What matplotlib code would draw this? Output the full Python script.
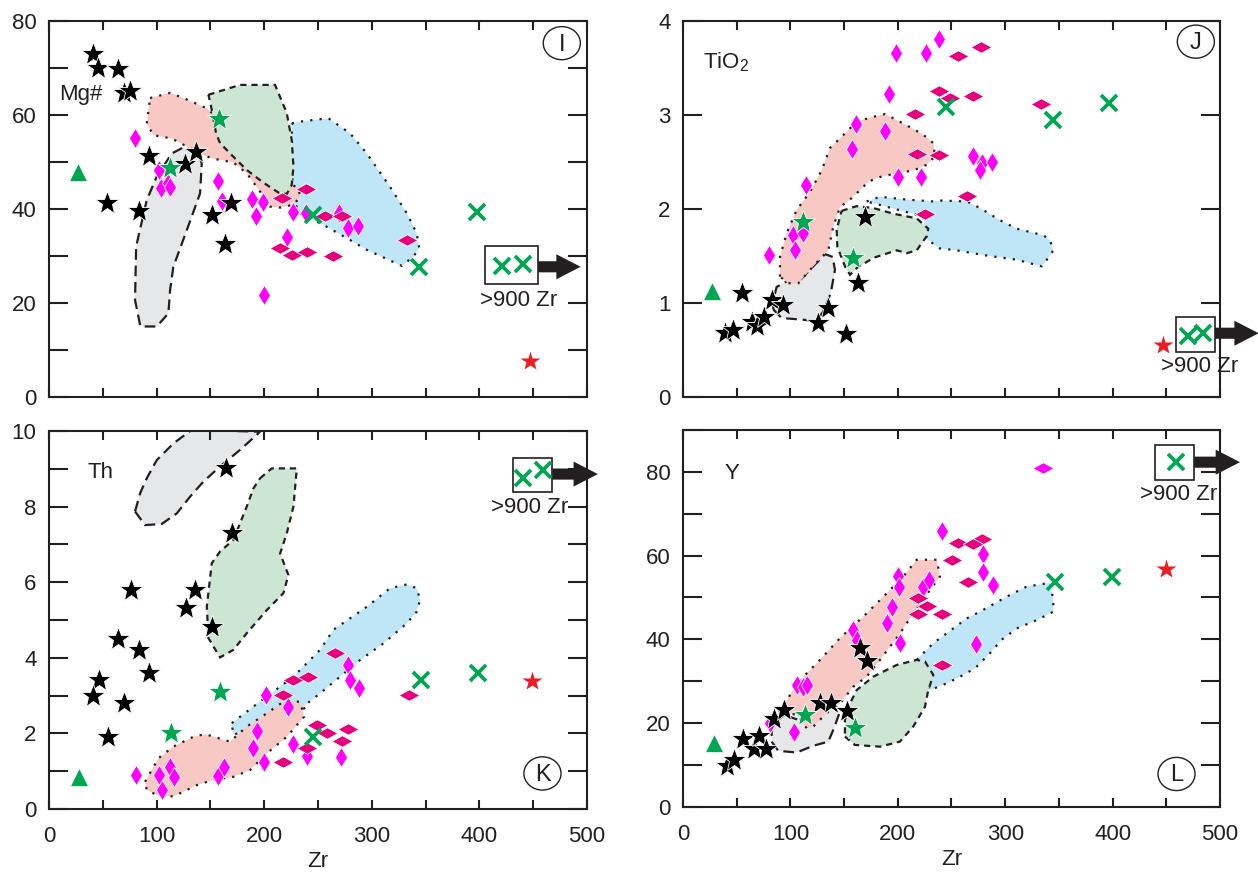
import matplotlib
matplotlib.use("Agg")
from matplotlib import pyplot as plt
from matplotlib.patches import Polygon, Rectangle, Ellipse, FancyArrowPatch
import numpy as np

plt.rcParams['font.family'] = ['Liberation Sans', 'DejaVu Sans']
plt.rcParams['mathtext.default'] = 'regular'

# ---------------- data: (Zr, value) ----------------
# panel I : Mg#
I_black_stars = [(40.6, 73.0), (45.8, 70.1), (64.4, 69.8), (69.7, 64.7), (75.3, 65.2), (92.9, 51.3),
                 (53.6, 41.2), (83.9, 39.6), (126.4, 49.6), (136.3, 52.1), (151.2, 38.7), (169.1, 41.3),
                 (163.6, 32.6)]
I_green_stars = [(112.5, 48.7), (158.3, 59.1)]
I_green_tri = [(27.3, 47.9)]
I_magenta = [(79.9, 55.2), (102.2, 48.2), (104.0, 44.4), (110.5, 45.5), (112.5, 44.7), (157.4, 46.0),
             (160.5, 41.7), (188.4, 42.1), (199.2, 41.4), (192.4, 38.4), (226.5, 39.4), (220.9, 34.1),
             (200.1, 21.7), (238.8, 39.1), (269.8, 39.1), (278.2, 35.9), (287.5, 36.4)]
I_pink = [(216.3, 42.3), (238.8, 44.3), (214.7, 31.6), (225.5, 30.3), (240.1, 30.8), (256.5, 38.4),
          (272.0, 38.5), (264.2, 30.1), (333.0, 33.4)]
I_green_x = [(245.0, 38.7), (344.2, 27.7), (397.5, 39.3)]
I_box_x = [(421.3, 27.9), (440.2, 28.2)]
I_red_star = [(447.0, 7.7)]

I_gray = [(84.6, 15.3), (79.9, 20.6), (80.9, 32.0), (90.8, 41.9), (100.1, 46.9), (114.0, 51.8),
          (124.8, 53.1), (138.8, 52.2), (141.9, 49.7), (140.3, 43.3), (128.0, 35.5), (115.5, 27.7),
          (112.5, 22.8), (110.9, 17.8), (100.1, 15.0), (87.6, 15.0)]
I_pinkfield = [(93.9, 63.6), (112.5, 64.7), (128.0, 63.3), (146.6, 61.4), (158.9, 58.9), (177.5, 54.7),
               (199.2, 49.0), (217.8, 46.2), (231.7, 44.4), (233.3, 42.6), (227.1, 40.9), (214.7, 40.3),
               (205.4, 40.5), (196.1, 43.7), (183.7, 47.6), (171.3, 49.9), (152.7, 50.7), (140.3, 51.7),
               (128.0, 53.3), (114.0, 55.0), (96.9, 55.7), (90.8, 58.2)]
I_greenfield = [(148.1, 64.3), (177.5, 66.4), (210.0, 66.4), (220.9, 60.4), (225.5, 54.7), (227.1, 49.0),
                (225.5, 45.1), (220.9, 43.2), (213.1, 43.5), (199.2, 45.6), (183.7, 48.3), (171.3, 51.1),
                (158.9, 54.0), (155.2, 56.1), (151.2, 61.1)]
I_bluefield = [(225.6, 58.2), (233.3, 58.6), (259.6, 59.3), (279.7, 56.1), (295.3, 51.8), (316.9, 44.7),
               (332.4, 39.1), (341.7, 34.8), (344.1, 31.6), (338.6, 29.9), (327.8, 27.9), (295.3, 31.3),
               (279.7, 33.4), (258.1, 36.2), (245.6, 37.7), (233.3, 39.1), (226.8, 41.9), (225.8, 48.3)]

# panel J : TiO2
J_black_stars = [(39.1, 0.68), (46.3, 0.71), (54.7, 1.11), (64.0, 0.80), (68.6, 0.76), (75.4, 0.85),
                 (83.2, 1.03), (92.8, 0.98), (126.0, 0.79), (135.3, 0.95), (151.5, 0.67), (163.2, 1.21),
                 (169.5, 1.91)]
J_green_stars = [(112.0, 1.86), (158.6, 1.48)]
J_green_tri = [(26.7, 1.13)]
J_magenta = [(80.4, 1.51), (102.1, 1.72), (104.3, 1.56), (112.0, 1.74), (114.2, 2.26), (157.1, 2.64),
             (161.1, 2.90), (188.1, 2.83), (192.1, 3.22), (198.3, 3.66), (199.9, 2.34), (221.3, 2.34),
             (226.3, 3.66), (238.6, 3.81), (270.3, 2.56), (278.1, 2.49), (287.4, 2.50), (276.5, 2.41)]
J_pink = [(216.0, 3.01), (238.6, 3.26), (248.6, 3.18), (217.6, 2.59), (238.6, 2.57), (225.3, 1.95),
          (256.3, 3.63), (277.2, 3.72), (269.7, 3.20), (264.2, 2.14), (333.0, 3.12)]
J_green_x = [(244.9, 3.08), (344.2, 2.95), (396.9, 3.13)]
J_box_x = [(470.5, 0.65), (484.5, 0.68)]
J_red_star = [(446.6, 0.55)]

J_gray = [(84.1, 0.93), (91.9, 0.84), (124.5, 0.81), (130.6, 0.91), (137.5, 1.10), (141.5, 1.35),
          (139.4, 1.49), (132.2, 1.52), (121.3, 1.39), (108.9, 1.24), (96.6, 1.23), (87.2, 1.17),
          (84.1, 1.03)]
J_pinkfield = [(90.3, 1.28), (90.3, 1.49), (96.5, 1.74), (105.9, 1.99), (118.2, 2.18), (129.1, 2.41),
               (136.9, 2.65), (146.2, 2.75), (161.7, 2.93), (177.2, 2.98), (188.1, 3.01), (205.1, 2.91),
               (223.7, 2.79), (233.1, 2.70), (234.6, 2.56), (226.9, 2.47), (214.4, 2.41), (199.0, 2.38),
               (183.4, 2.34), (172.5, 2.29), (164.8, 2.20), (155.5, 2.10), (146.2, 2.02), (139.9, 1.81),
               (135.3, 1.56), (121.3, 1.39), (107.4, 1.21), (98.0, 1.21)]
J_greenfield = [(147.7, 1.98), (161.7, 2.03), (177.2, 2.01), (195.8, 1.95), (217.6, 1.90), (228.4, 1.79),
                (226.9, 1.71), (217.6, 1.56), (208.3, 1.53), (199.0, 1.56), (177.2, 1.48), (161.7, 1.37),
                (155.5, 1.30), (150.8, 1.39), (143.7, 1.60), (143.1, 1.78)]
J_bluefield = [(171.0, 2.08), (183.4, 2.13), (208.3, 2.10), (233.1, 2.08), (239.3, 2.09), (264.2, 2.08),
               (276.5, 2.01), (295.2, 1.88), (310.7, 1.79), (335.5, 1.72), (341.7, 1.67), (344.8, 1.56),
               (340.1, 1.48), (334.0, 1.39), (310.7, 1.46), (279.6, 1.51), (254.8, 1.56), (239.3, 1.58),
               (226.9, 1.68), (223.7, 1.92)]

# panel K : Th
K_black_stars = [(164.5, 9.01), (170.4, 7.29), (76.2, 5.79), (135.7, 5.79), (127.0, 5.31), (151.8, 4.81),
                 (64.4, 4.50), (83.9, 4.21), (93.2, 3.61), (46.5, 3.41), (40.6, 2.99), (70.0, 2.80),
                 (54.6, 1.91)]
K_green_stars = [(113.1, 2.02), (158.9, 3.10)]
K_green_tri = [(27.9, 0.84)]
K_magenta = [(80.9, 0.90), (102.5, 0.90), (112.5, 1.12), (116.2, 0.84), (105.3, 0.50), (157.3, 0.86),
             (162.6, 1.12), (189.3, 1.60), (193.0, 2.05), (199.8, 1.23), (201.7, 3.02), (222.4, 2.69),
             (227.0, 1.72), (239.5, 1.40), (278.2, 3.81), (279.7, 3.41), (288.4, 3.19), (271.1, 1.38)]
K_pink = [(226.5, 3.41), (241.0, 3.50), (217.8, 3.02), (217.8, 1.23), (239.5, 1.61), (249.0, 2.22),
          (265.8, 4.12), (258.1, 2.00), (272.0, 1.81), (278.2, 2.11), (334.9, 3.01)]
K_green_x = [(245.6, 1.91), (345.4, 3.41), (399.0, 3.61)]
K_box_x = [(440.2, 8.75), (458.8, 8.97)]
K_red_star = [(449.2, 3.39)]

K_gray = [(79.9, 7.87), (89.2, 7.51), (104.7, 7.54), (118.7, 7.82), (131.0, 8.26), (143.4, 8.66),
          (158.9, 9.06), (177.5, 9.50), (196.1, 9.98), (132.6, 10.03), (115.5, 9.67), (100.1, 9.23),
          (90.8, 8.75), (84.6, 8.35)]
K_pinkfield = [(89.2, 0.72), (101.6, 1.34), (115.5, 1.65), (134.1, 1.91), (145.0, 1.98), (168.2, 1.78),
               (183.7, 2.18), (202.3, 2.53), (217.8, 2.84), (233.3, 2.84), (237.0, 2.44), (220.9, 1.91),
               (202.3, 1.47), (186.8, 1.03), (171.3, 0.85), (152.7, 0.77), (137.3, 0.63), (115.5, 0.33),
               (100.1, 0.37), (90.8, 0.50)]
K_greenfield = [(196.1, 8.75), (207.0, 9.01), (230.2, 9.01), (227.1, 8.00), (220.9, 7.29), (214.7, 6.76),
                (222.4, 6.19), (217.8, 5.71), (202.3, 5.26), (183.7, 4.65), (171.3, 4.21), (158.9, 4.01),
                (148.1, 4.52), (146.6, 5.35), (151.2, 6.50), (158.9, 6.81), (171.3, 7.12), (183.7, 8.00),
                (189.9, 8.48)]
K_bluefield = [(169.8, 2.27), (189.9, 2.71), (227.1, 3.50), (251.9, 4.21), (264.2, 4.74), (295.3, 5.35),
               (316.9, 5.84), (332.4, 5.94), (341.7, 5.84), (344.8, 5.53), (341.7, 5.22), (332.4, 4.91),
               (310.7, 4.38), (289.0, 3.94), (270.4, 3.50), (251.9, 3.06), (236.3, 2.71), (237.9, 2.62),
               (171.3, 1.96)]

# panel L : Y
L_black_stars = [(40.7, 9.8), (47.8, 11.1), (55.6, 16.2), (66.1, 13.8), (70.8, 16.9), (77.3, 13.8),
                 (85.0, 20.9), (94.0, 23.2), (127.6, 24.9), (137.5, 24.9), (153.0, 23.0), (164.8, 37.9),
                 (171.0, 34.9)]
L_green_stars = [(113.6, 22.0), (160.1, 18.8)]
L_green_tri = [(28.9, 15.2)]
L_magenta = [(81.0, 20.0), (103.4, 18.0), (105.9, 29.1), (112.0, 28.7), (115.2, 29.1), (158.6, 42.2),
             (161.7, 39.9), (189.7, 44.0), (194.3, 47.8), (199.9, 55.1), (201.4, 52.6), (202.0, 39.1),
             (223.7, 52.6), (229.3, 54.2), (240.9, 65.9), (279.6, 60.5), (279.6, 56.2), (288.9, 53.0),
             (272.8, 38.9)]
L_magenta_wide = [(335.5, 80.8)]
L_pink = [(219.1, 49.8), (226.9, 48.0), (218.5, 46.0), (241.5, 46.0), (241.5, 33.9), (250.5, 59.0),
          (256.0, 62.9), (278.1, 64.0), (270.3, 62.7), (265.6, 53.8)]
L_green_x = [(346.4, 53.8), (399.2, 55.0)]
L_box_x = [(458.7, 82.3)]
L_red_star = [(449.7, 56.8)]

L_gray = [(82.6, 15.6), (88.7, 13.4), (105.9, 13.0), (121.3, 14.6), (135.3, 15.6), (140.6, 18.8),
          (146.2, 22.8), (141.5, 24.3), (130.6, 22.8), (118.2, 20.0), (102.7, 21.2), (90.3, 22.4),
          (82.6, 19.2)]
L_pinkfield = [(84.1, 20.8), (93.4, 23.9), (105.9, 29.5), (127.6, 35.1), (146.2, 40.3), (171.0, 46.2),
               (189.7, 51.0), (205.1, 55.0), (217.6, 59.0), (236.2, 59.0), (239.3, 55.0), (230.0, 51.8),
               (214.4, 46.2), (202.0, 41.4), (183.4, 35.1), (171.0, 31.1), (158.6, 28.7), (146.2, 24.7),
               (133.8, 22.4), (121.3, 19.2), (115.2, 18.8), (105.9, 22.0), (96.6, 22.4)]
L_greenfield = [(150.8, 16.8), (160.1, 14.8), (183.4, 14.4), (202.0, 15.6), (214.4, 19.2), (225.3, 23.9),
                (228.4, 27.9), (233.1, 31.5), (225.3, 34.7), (217.6, 35.1), (199.0, 33.9), (177.2, 31.1),
                (161.7, 27.9), (155.5, 24.7), (150.8, 20.8)]
L_bluefield = [(217.6, 35.1), (233.1, 39.1), (257.9, 43.8), (261.0, 44.6), (276.5, 46.6), (301.4, 50.2),
               (320.0, 52.6), (341.7, 53.5), (344.8, 49.4), (344.8, 46.6), (329.3, 44.6), (310.7, 42.6),
               (296.7, 39.9), (285.8, 36.7), (271.9, 33.1), (257.9, 31.1), (245.5, 29.5), (230.0, 27.9)]

# ---------------- styles ----------------
DARK = '#231F20'
GREEN = '#00A651'
RED = '#ED1C24'
MAGENTA = '#FF00FF'
PINK = '#E6007E'
FILLS = {'blue': '#BFE6F7', 'gray': '#E6E7E8', 'pink': '#F8C8C4', 'green': '#CDE6D4'}
DOT = (0, (1, 3.2))
LONG_DASH = (0, (4.8, 2.6))
SHORT_DASH = (0, (2.8, 2.2))
WIDE_DIAMOND = [(-1, 0), (0, 0.55), (1, 0), (0, -0.55), (-1, 0)]
TALL_DIAMOND = [(0, 1), (0.6, 0), (0, -1), (-0.6, 0), (0, 1)]
FS = 16


def pts(ax, data, **kw):
    zr, val = zip(*data)
    ax.plot(zr, val, ls='none', clip_on=False, **kw)


def draw_panel(ax, d):
    ax.set_xlim(0, 500)
    ax.set_ylim(0, d['ymax'])

    # compositional fields
    for key, ls in [('blue', DOT), ('gray', LONG_DASH), ('pink', DOT), ('green', SHORT_DASH)]:
        ax.add_patch(Polygon(d['f_' + key], closed=True, fc=FILLS[key], ec=DARK, lw=1.6, ls=ls, zorder=1))

    # samples
    pts(ax, d['magenta'], marker=TALL_DIAMOND, ms=14.5, mfc=MAGENTA, mec='white', mew=0.6, zorder=3)
    if 'magenta_wide' in d:
        pts(ax, d['magenta_wide'], marker=WIDE_DIAMOND, ms=15, mfc=MAGENTA, mec='white', mew=0.6, zorder=3)
    pts(ax, d['pinkd'], marker=WIDE_DIAMOND, ms=15, mfc=PINK, mec='white', mew=0.6, zorder=3)
    pts(ax, d['black'], marker='*', ms=18, mfc='black', mec='white', mew=0.6, zorder=4)
    pts(ax, d['gstar'], marker='*', ms=18, mfc=GREEN, mec='white', mew=0.6, zorder=4)
    pts(ax, d['tri'], marker='^', ms=12.5, mfc=GREEN, mec='white', mew=0.5, zorder=4)
    pts(ax, d['gx'], marker='x', ms=11, mec=GREEN, mew=2.7, zorder=5)
    pts(ax, d['red'], marker='*', ms=15, mfc=RED, mec='none', zorder=4)

    # >900 Zr box with arrow
    (bx0, bx1), (by0, by1) = d['box']
    ax.add_patch(Rectangle((bx0, by0), bx1 - bx0, by1 - by0, fc='white', ec=DARK, lw=1.2,
                           zorder=4, clip_on=False))
    pts(ax, d['boxx'], marker='x', ms=11, mec=GREEN, mew=2.7, zorder=6)
    ya = d['arrow_y']
    ax.add_patch(FancyArrowPatch((bx1, ya), (d['arrow_tip'], ya), mutation_scale=10, shrinkA=0, shrinkB=0,
                                 arrowstyle='simple,head_length=1.75,head_width=1.8,tail_width=0.8',
                                 fc=DARK, ec=DARK, lw=0, zorder=5, clip_on=False))
    ax.text(d['note'][0], d['note'][1], '>900 Zr', fontsize=FS, color=DARK, ha='center', va='center',
            zorder=6, clip_on=False)

    # element name
    ax.text(d['name_pos'][0], d['name_pos'][1], d['name'], fontsize=FS, color=DARK, ha='left', va='center')

    # circled panel letter
    cx, cy = d['circle']
    ax.add_patch(Ellipse((cx, cy), 0.069, 0.088, transform=ax.transAxes, fill=False, ec=DARK, lw=1.0,
                         zorder=6))
    ax.text(cx, cy - 0.004, d['letter'], transform=ax.transAxes, fontsize=17, color=DARK, ha='center',
            va='center', zorder=6)

    # axes and ticks
    ax.set_xticks(np.arange(0, 501, 100))
    ax.set_xticks(np.arange(50, 500, 100), minor=True)
    ax.set_yticks(d['yticks'])
    ax.set_yticks(d['yminor'], minor=True)
    ax.tick_params(axis='both', which='both', direction='in', width=1.5, top=True, right=True,
                   labelsize=FS, colors=DARK)
    ax.tick_params(axis='y', which='both', length=13.5, pad=9)
    ax.tick_params(axis='x', which='both', length=6.5, pad=12)
    for s in ax.spines.values():
        s.set_linewidth(1.5)
        s.set_color(DARK)
    if d['xlabels']:
        ax.set_xlabel('Zr', fontsize=FS, labelpad=3, color=DARK)
    else:
        ax.tick_params(axis='x', labelbottom=False)


specs = [
    ([0.039, 0.5458, 0.4277, 0.4302],
     dict(ymax=80, yticks=np.arange(0, 81, 20), yminor=np.arange(10, 80, 20), xlabels=False,
          black=I_black_stars, gstar=I_green_stars, tri=I_green_tri, magenta=I_magenta, pinkd=I_pink,
          gx=I_green_x, boxx=I_box_x, red=I_red_star,
          f_gray=I_gray, f_pink=I_pinkfield, f_green=I_greenfield, f_blue=I_bluefield,
          box=((405.2, 454.5), (24.0, 32.2)), arrow_y=27.7, arrow_tip=494, note=(436.5, 20.6),
          name='Mg#', name_pos=(9.3, 64.3), letter='I', circle=(0.953, 0.941))),
    ([0.5429, 0.5458, 0.4269, 0.4302],
     dict(ymax=4, yticks=np.arange(0, 5, 1), yminor=[], xlabels=False,
          black=J_black_stars, gstar=J_green_stars, tri=J_green_tri, magenta=J_magenta, pinkd=J_pink,
          gx=J_green_x, boxx=J_box_x, red=J_red_star,
          f_gray=J_gray, f_pink=J_pinkfield, f_green=J_greenfield, f_blue=J_bluefield,
          box=((459.0, 495.3), (0.48, 0.85)), arrow_y=0.678, arrow_tip=536, note=(481.4, 0.32),
          name='TiO$_2$', name_pos=(18.6, 3.56), letter='J', circle=(0.955, 0.945))),
    ([0.039, 0.0744, 0.4277, 0.4325],
     dict(ymax=10, yticks=np.arange(0, 11, 2), yminor=np.arange(1, 10, 2), xlabels=True,
          black=K_black_stars, gstar=K_green_stars, tri=K_green_tri, magenta=K_magenta, pinkd=K_pink,
          gx=K_green_x, boxx=K_box_x, red=K_red_star,
          f_gray=K_gray, f_pink=K_pinkfield, f_green=K_greenfield, f_blue=K_bluefield,
          box=((431.5, 467.8), (8.39, 9.29)), arrow_y=8.86, arrow_tip=510, note=(447.0, 7.98),
          name='Th', name_pos=(35.3, 8.9), letter='K', circle=(0.917, 0.094))),
    ([0.5429, 0.0767, 0.4269, 0.4314],
     dict(ymax=90, yticks=np.arange(0, 81, 20), yminor=np.arange(10, 91, 20), xlabels=True,
          black=L_black_stars, gstar=L_green_stars, tri=L_green_tri, magenta=L_magenta, pinkd=L_pink,
          magenta_wide=L_magenta_wide, gx=L_green_x, boxx=L_box_x, red=L_red_star,
          f_gray=L_gray, f_pink=L_pinkfield, f_green=L_greenfield, f_blue=L_bluefield,
          box=((439.5, 476.0), (78.0, 86.4)), arrow_y=82.3, arrow_tip=518.6, note=(461.8, 74.7),
          name='Y', name_pos=(39.1, 79.7), letter='L', circle=(0.919, 0.0875))),
]

fig = plt.figure(figsize=(12.58, 8.74), dpi=100)
for rect, d in specs:
    ax = fig.add_axes(rect)
    draw_panel(ax, d)

fig.savefig('out.png', dpi=100)
